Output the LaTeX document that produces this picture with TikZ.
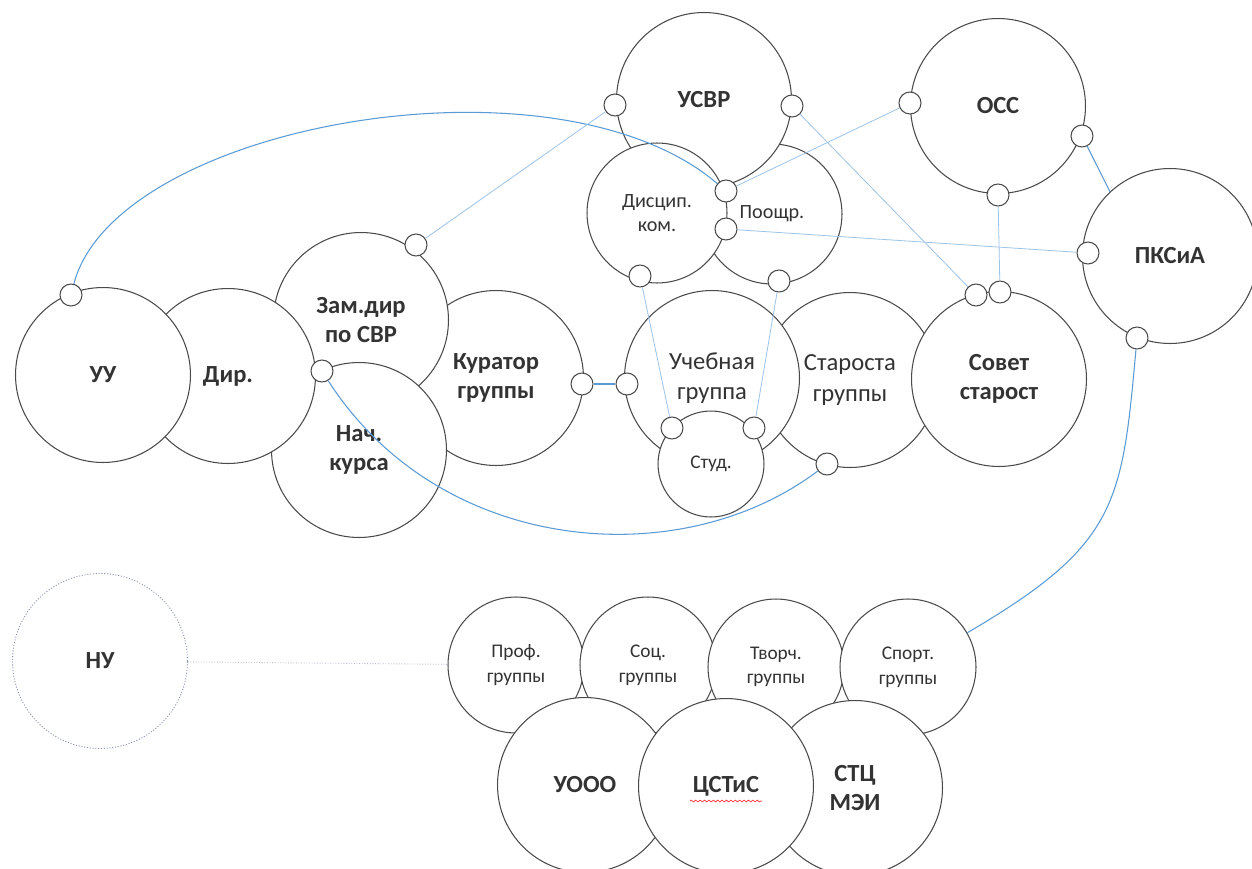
\documentclass[tikz,border=0pt]{standalone}
\usepackage{fontspec}
\setmainfont{Carlito}
\usepackage{tikz}
\usetikzlibrary{calc,decorations.pathmorphing,shapes}
\definecolor{cline}{HTML}{4A4A4A}
\definecolor{txt}{HTML}{333333}
\definecolor{lnk}{HTML}{5B9BD5}
\definecolor{lnklight}{HTML}{9CC3E8}
\definecolor{nuline}{HTML}{8C93B5}
\tikzstyle{unit} = [circle, draw=cline, line width=0.6pt, fill=white, inner sep=0pt,
align=center, text=txt, minimum size=3.5cm, font=\bfseries\fontsize{14}{16.5}\selectfont]
\tikzstyle{unitplain} = [unit, font=\fontsize{14}{17.5}\selectfont]
\tikzstyle{sub} = [unit, minimum size=2.8cm, font=\fontsize{11.5}{13.5}\selectfont]
\tikzstyle{grp} = [unit, minimum size=2.72cm, font=\fontsize{11}{14}\selectfont]
\tikzstyle{joint} = [circle, draw=cline, line width=0.6pt, fill=white,
minimum size=0.44cm, inner sep=0pt]
\tikzstyle{link} = [draw=lnk, line width=0.6pt]
\tikzstyle{thinlink} = [draw=lnklight, line width=0.45pt]

\begin{document}
\begin{tikzpicture}[x=0.02cm, y=-0.02cm]
	\useasboundingbox (0,0) rectangle (1252,869);
	\fill[white] (0,0) rectangle (1252,869);
	% Place nodes
	\node [unit] (kur) at (496,378) {Куратор\\группы};
	\node [unit] (zam) at (361,320) {Зам.дир\\по СВР};
	\node [unit] (nach) at (359,450) {Нач.\\курса};
	\node [unit] (dir) at (228,376) {Дир.};
	\node [unit] (uu) at (103,375) {УУ};
	%
	\node [unitplain] (staro) at (850,380) {Староста\\группы};
	\node [unit] (sovet) at (999,379) {Совет\\старост};
	\node [unitplain] (ucheb) at (712,378) {Учебная\\группа};
	\node [sub, minimum size=2.12cm, font=\fontsize{11}{13}\selectfont] (stud) at (711,464) {Студ.};
	%
	\node [sub] (pooshr) at (772,214) {Поощр.};
	\node [unit] (usvr) at (704,100) {УСВР};
	\node [sub] (discip) at (657,213) {Дисцип.\\ком.};
	\node [unit] (occ) at (998,106) {ОСС};
	\node [unit] (pksia) at (1170,256) {ПКСиА};
	%
	\node [grp] (prof) at (516,665) {Проф.\\группы};
	\node [grp] (soc) at (648,665) {Соц.\\группы};
	\node [grp] (tvor) at (776,667) {Творч.\\группы};
	\node [grp] (sport) at (908,667) {Спорт.\\группы};
	\node [unit] (uooo) at (585,785) {УООО};
	\node [unit] (stc) at (855,788) {СТЦ\\МЭИ};
	\node [unit] (cstis) at (726,786) {ЦСТиС};
	\draw [red!80, line width=0.4pt, decorate, decoration={snake, amplitude=0.5pt, segment length=2.5pt}]
		([shift={(-36,15)}]cstis.center) -- ++(72,0);
	%
	\node [unit, draw=nuline, densely dotted, line width=0.5pt] (nu) at (100,661) {НУ};
	
	% joints
	\node [joint] (jUU) at (71,295) {};
	\node [joint] (jZam) at (416,245) {};
	\node [joint] (jZN) at (322,371) {};
	\node [joint] (jKur) at (582,384) {};
	\node [joint] (jUch) at (627,384) {};
	\node [joint] (jUsvrL) at (615,105) {};
	\node [joint] (jUsvrR) at (792,106) {};
	\node [joint] (jTop) at (726,191) {};
	\node [joint] (jMid) at (726,229) {};
	\node [joint] (jDis) at (640,276) {};
	\node [joint] (jPoo) at (779,281) {};
	\node [joint] (jStL) at (672,428) {};
	\node [joint] (jStR) at (754,428) {};
	\node [joint] (jSta) at (827,464) {};
	\node [joint] (jSovL) at (976,295) {};
	\node [joint] (jSovR) at (1000,292) {};
	\node [joint] (jOccL) at (910,103) {};
	\node [joint] (jOccR) at (1082,136) {};
	\node [joint] (jOccB) at (998,195) {};
	\node [joint] (jPkL) at (1088,253) {};
	\node [joint] (jPkB) at (1137,338) {};
	
	% links
	\path [link] (jUU) .. controls (115,125) and (555,45) .. (jTop);
	\path [thinlink] (jZam) -- (jUsvrL);
	\path [link] (jZN) .. controls (440,555) and (680,575) .. (jSta);
	\path [link] (jKur) -- (jUch);
	\path [thinlink] (jDis) -- (jStL);
	\path [thinlink] (jPoo) -- (jStR);
	\path [thinlink] (jUsvrR) -- (jSovL);
	\path [thinlink] (jTop) -- (jOccL);
	\path [thinlink] (jMid) -- (jPkL);
	\path [thinlink] (jOccB) -- (jSovR);
	\path [link] (jOccR) -- (pksia.133);
	\path [link] (jPkB) .. controls (1122,505) and (1117,545) .. (sport.30);
	\path [draw=nuline!60, densely dotted, line width=0.5pt] (nu) -- (prof);
\end{tikzpicture}
\end{document}
